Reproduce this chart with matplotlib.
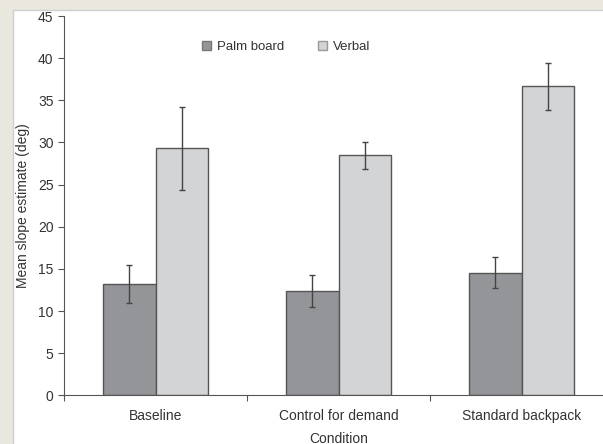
import matplotlib
matplotlib.use("Agg")
import matplotlib.pyplot as plt
import numpy as np
from matplotlib.patches import Rectangle, Patch

plt.rcParams["font.family"] = ["Liberation Sans", "DejaVu Sans"]

conditions = ["Baseline", "Control for demand", "Standard backpack"]
palm_mean = [13.2, 12.4, 14.5]
palm_lo = [11.0, 10.5, 12.7]
palm_hi = [15.5, 14.3, 16.4]
verbal_mean = [29.3, 28.5, 36.7]
verbal_lo = [24.4, 26.8, 33.9]
verbal_hi = [34.2, 30.1, 39.4]
yticks = list(range(0, 46, 5))

PALM = "#949598"
VERBAL = "#d3d4d6"
EDGE = "#555555"
BG = "#e9e7de"

fig = plt.figure(figsize=(6.03, 4.44), dpi=100, facecolor=BG)
fig.patches.append(Rectangle((13 / 603, -0.1), 1, 1.1 - 10 / 444, transform=fig.transFigure,
                             facecolor="white", edgecolor="#cfcfcf", linewidth=1, zorder=-10))
ax = fig.add_axes([64 / 603, 1 - 395.3 / 444, 549 / 603, (395.3 - 16) / 444])
ax.set_facecolor("none")

x = np.arange(len(conditions))
w = 0.285
pm, vm = np.array(palm_mean), np.array(verbal_mean)
perr = [pm - np.array(palm_lo), np.array(palm_hi) - pm]
verr = [vm - np.array(verbal_lo), np.array(verbal_hi) - vm]
ekw = dict(ecolor="#444444", elinewidth=1, capsize=2.5, capthick=1)
ax.bar(x - w / 2, pm, w, color=PALM, edgecolor=EDGE, linewidth=1, yerr=perr, error_kw=ekw,
       label="Palm board")
ax.bar(x + w / 2, vm, w, color=VERBAL, edgecolor=EDGE, linewidth=1, yerr=verr, error_kw=ekw,
       label="Verbal")

ax.set_xlim(-0.5, len(conditions) - 0.5)
ax.set_ylim(0, 45)
ax.set_yticks(yticks)
ax.set_xticks(np.arange(len(conditions) + 1) - 0.5)
ax.set_xticklabels([])
ax.set_xticks(x, conditions, minor=True)
ax.tick_params(axis="x", which="minor", length=0, pad=10, labelsize=10, labelcolor="#333333")
ax.tick_params(axis="x", which="major", length=4, color="#555555")
ax.tick_params(axis="y", length=4, color="#555555", labelsize=10, labelcolor="#333333")
for s in ["top", "right"]:
    ax.spines[s].set_visible(False)
for s in ["left", "bottom"]:
    ax.spines[s].set_color("#555555")
ax.set_xlabel("Condition", fontsize=10, color="#333333", labelpad=6)
ax.set_ylabel("Mean slope estimate (deg)", fontsize=10, color="#333333", labelpad=6)

handles = [Patch(facecolor=PALM, edgecolor="#777777", label="Palm board"),
           Patch(facecolor=VERBAL, edgecolor="#999999", label="Verbal")]
ax.legend(handles=handles, loc="center left", bbox_to_anchor=(202 / 603, 1 - 47 / 444),
          bbox_transform=fig.transFigure, ncol=2, frameon=False, fontsize=9.5,
          handlelength=0.65, handleheight=0.65, handletextpad=0.45, columnspacing=2.6,
          labelcolor="#333333", borderpad=0, borderaxespad=0)

fig.savefig("out.png", dpi=100, facecolor=BG)
